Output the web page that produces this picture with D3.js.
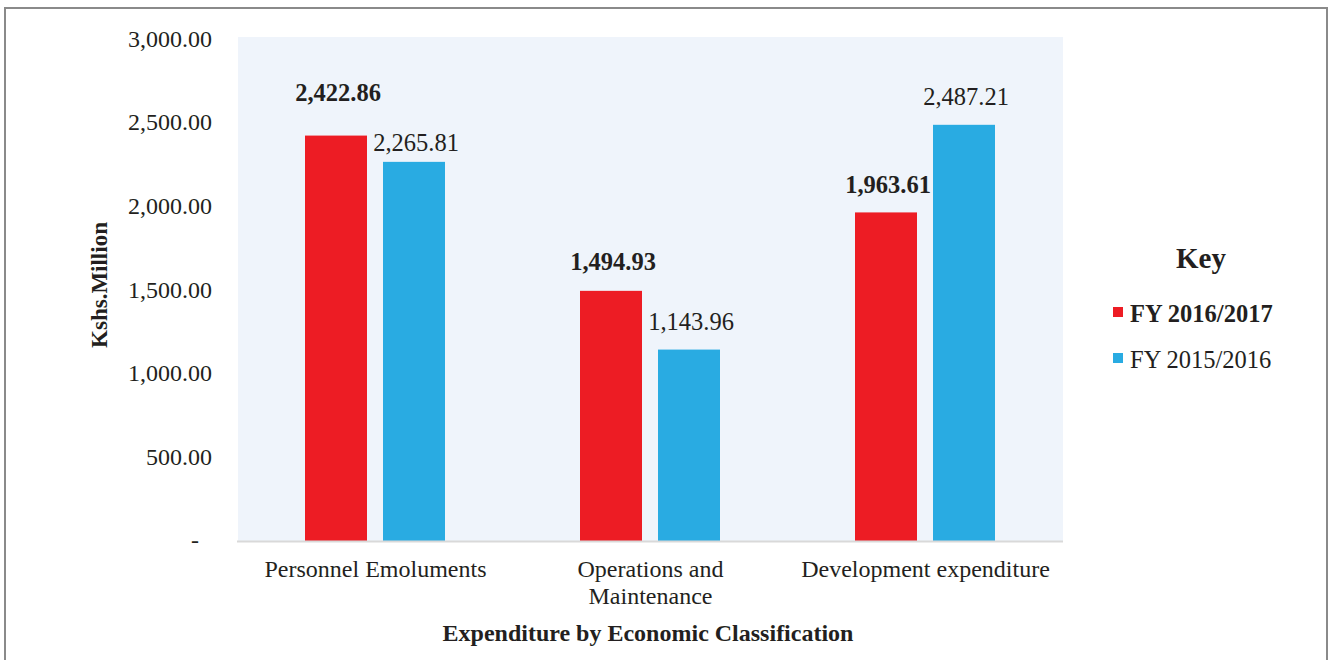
<!DOCTYPE html>
<html><head><meta charset="utf-8">
<script src="https://cdn.jsdelivr.net/npm/d3@7"></script>
<style>body{margin:0;background:#fff}svg{display:block}text{font-family:"Liberation Serif","Times New Roman",serif;fill:#231F20}</style>
</head><body><svg id="c" width="1330" height="660"></svg>
<script>
const categories = ["Personnel Emoluments", "Operations and\nMaintenance", "Development expenditure"];
const seriesNames = ["FY 2016/2017", "FY 2015/2016"];
const fy2017 = [2422.86, 1494.93, 1963.61];
const fy2016 = [2265.81, 1143.96, 2487.21];
const yTicks = [0, 500, 1000, 1500, 2000, 2500, 3000];
const colors = ["#ED1C24", "#29ABE2"];

const svg = d3.select("#c");
// outer frame
svg.append("rect").attr("x",5).attr("y",8).attr("width",1322).attr("height",660)
  .attr("fill","none").attr("stroke","#8a8a8a").attr("stroke-width",2);

const plot = {l:238, r:1063, t:37, b:541};
const y = d3.scaleLinear().domain([0,3000]).range([plot.b, 39]);
const x0 = d3.scaleBand().domain(categories).range([plot.l, plot.r]).paddingInner(0).paddingOuter(0);
const x1 = d3.scaleBand().domain(seriesNames).range([67, 207]).paddingInner(16/78).paddingOuter(0);

svg.append("rect").attr("x",plot.l).attr("y",plot.t).attr("width",plot.r-plot.l).attr("height",plot.b-plot.t).attr("fill","#EFF4FB");

// y axis labels
const yAxis = d3.axisLeft(y).tickValues(yTicks).tickSize(0).tickPadding(0)
  .tickFormat(d => d === 0 ? "-" : d3.format(",.2f")(d));
const gy = svg.append("g").attr("transform","translate(212,0)").call(yAxis);
gy.select(".domain").remove();
gy.selectAll("text").style("font-size","24px").style("font-family","Liberation Serif").attr("fill","#231F20").attr("dy","0.3em");
gy.selectAll(".tick").filter(d=>d===0).select("text").attr("x",-13).attr("dy","0.25em");

// bars
const rows = categories.map((c,i)=>({cat:c, vals:[fy2017[i], fy2016[i]]}));
const g = svg.append("g");
const nudge = [[35,11],[21,20],[19,20]];
rows.forEach((r,i)=>{
  r.vals.forEach((v,j)=>{
    const bx = x0(r.cat) + x1(seriesNames[j]);
    g.append("rect").attr("x",bx).attr("y",y(v)).attr("width",x1.bandwidth()).attr("height",y(0)-y(v)).attr("fill",colors[j]);
    g.append("text").attr("x",bx + x1.bandwidth()/2 + 2).attr("y",y(v)-nudge[i][j])
      .attr("text-anchor","middle").style("font-size","24.5px").style("font-weight", j===0?"bold":"normal")
      .text(d3.format(",.2f")(v));
  });
});

// x axis line
svg.append("line").attr("x1",plot.l-1).attr("x2",plot.r).attr("y1",plot.b+0.5).attr("y2",plot.b+0.5).attr("stroke","#d9d9d9").attr("stroke-width",2);

// category labels
categories.forEach(c=>{
  const lines = c.split("\n");
  const cx = x0(c)+x0.bandwidth()/2;
  const t = svg.append("text").attr("x", cx).attr("y",577).attr("text-anchor","middle").style("font-size","24px");
  lines.forEach((l,k)=>t.append("tspan").attr("x", cx).attr("dy", k===0?0:27).text(l));
});

// axis titles
svg.append("text").attr("x",648).attr("y",641).attr("text-anchor","middle").style("font-size","24px").style("font-weight","bold")
  .text("Expenditure by Economic Classification");
svg.append("text").attr("transform","translate(107,285) rotate(-90)").attr("text-anchor","middle").style("font-size","23px").style("font-weight","bold")
  .text("Kshs.Million");

// legend
svg.append("text").attr("x",1201).attr("y",268).attr("text-anchor","middle").style("font-size","29px").style("font-weight","bold").text("Key");
seriesNames.forEach((s,i)=>{
  const ly = 322 + i*46;
  svg.append("rect").attr("x",1113).attr("y",ly-15).attr("width",10).attr("height",10).attr("fill",colors[i]);
  svg.append("text").attr("x",1130).attr("y",ly).style("font-size","24.5px").style("font-weight", i===0?"bold":"normal").text(s);
});
</script></body></html>
